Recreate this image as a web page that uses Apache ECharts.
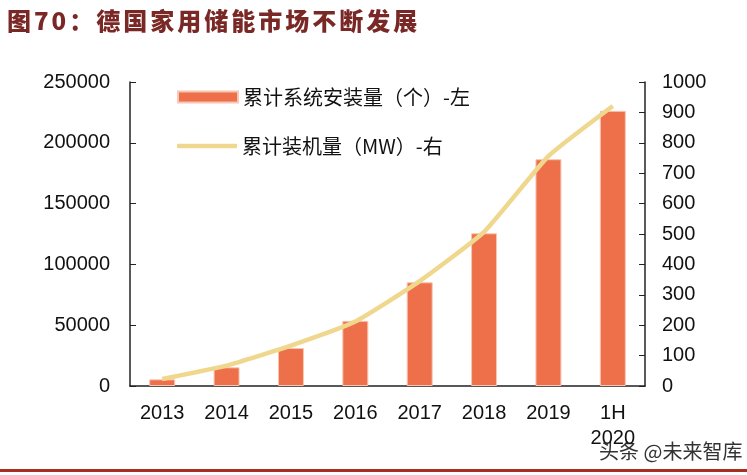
<!DOCTYPE html>
<html><head><meta charset="utf-8">
<script src="https://cdn.jsdelivr.net/npm/echarts@6/dist/echarts.min.js"></script>
<style>
html,body{margin:0;padding:0;background:#fff;}
#wrap{position:relative;width:747px;height:475px;overflow:hidden;}
#title{position:absolute;left:7px;top:5px;font-family:"Noto Sans CJK SC";font-weight:900;font-size:24px;letter-spacing:3px;color:#7a2826;line-height:30px;white-space:nowrap;}
#chart{position:absolute;left:0;top:0;width:747px;height:475px;}
#bottomline{position:absolute;left:0;top:469px;width:747px;height:3px;background:#a8301e;}
</style></head>
<body>
<div id="wrap">
<div id="chart"></div>
<div id="title">图70：德国家用储能市场不断发展</div>
<div id="bottomline"></div>
</div>
<script>
const categories = ['2013','2014','2015','2016','2017','2018','2019','1H\n2020'];
const installedSystems = [5500, 15400, 31300, 53600, 85300, 125600, 186500, 226300];
const installedCapacityMW = [23, 67, 133, 212, 345, 507, 756, 921];
const leftTicks = [0, 50000, 100000, 150000, 200000, 250000];
const rightTicks = [0, 100, 200, 300, 400, 500, 600, 700, 800, 900, 1000];
const seriesNames = ['累计系统安装量（个）-左', '累计装机量（MW）-右'];

const chart = echarts.init(document.getElementById('chart'));
const font = 'Liberation Sans, Arial, sans-serif';
const legendText = {fontSize: 20, color: '#111', fontFamily: 'Noto Sans CJK SC'};
chart.setOption({
  animation: false,
  backgroundColor: 'transparent',
  grid: {left: 130, right: 102, top: 82, bottom: 89},
  legend: [{
    left: 172, top: 82, itemWidth: 60, itemHeight: 11, itemGap: 10,
    textStyle: legendText, data: [{name: seriesNames[0], icon: 'rect'}]
  }, {
    left: 172, top: 131, itemWidth: 60, itemHeight: 4.5, itemGap: 10,
    textStyle: legendText, data: [{name: seriesNames[1], icon: 'roundRect'}]
  }],
  graphic: [{
    type: 'text', right: 3, top: 440,
    style: {text: '头条 @未来智库', fontSize: 20, fill: '#333', stroke: '#fff', lineWidth: 3,
      fontFamily: 'Noto Sans CJK SC'}
  }],
  xAxis: {
    type: 'category', data: categories,
    axisLine: {lineStyle: {color: '#222', width: 1.5}},
    axisTick: {inside: true, length: 6, lineStyle: {color: '#222'}},
    axisLabel: {fontSize: 20, color: '#111', fontFamily: font, margin: 15, lineHeight: 25, interval: 0}
  },
  yAxis: [{
    type: 'value', min: leftTicks[0], max: leftTicks[leftTicks.length-1], interval: 50000,
    axisLine: {show: true, lineStyle: {color: '#222', width: 1.5}},
    axisTick: {show: true, inside: true, length: 6, lineStyle: {color: '#222'}},
    splitLine: {show: false},
    axisLabel: {fontSize: 20, color: '#111', fontFamily: font, margin: 20, formatter: v => String(v)}
  }, {
    type: 'value', min: rightTicks[0], max: rightTicks[rightTicks.length-1], interval: 100,
    axisLine: {show: true, lineStyle: {color: '#222', width: 1.5}},
    axisTick: {show: true, inside: true, length: 6, lineStyle: {color: '#222'}},
    splitLine: {show: false},
    axisLabel: {fontSize: 20, color: '#111', fontFamily: font, margin: 17, formatter: v => String(v)}
  }],
  series: [{
    name: seriesNames[0], type: 'bar', yAxisIndex: 0, data: installedSystems,
    barWidth: 26,
    itemStyle: {color: '#ee704a', borderColor: '#f8c6b4', borderWidth: 1}
  }, {
    name: seriesNames[1], type: 'line', yAxisIndex: 1, data: installedCapacityMW,
    smooth: 0.15, symbol: 'none',
    lineStyle: {color: '#f0d78e', width: 4.5},
    itemStyle: {color: '#f0d78e'}
  }]
});
</script>
</body></html>
